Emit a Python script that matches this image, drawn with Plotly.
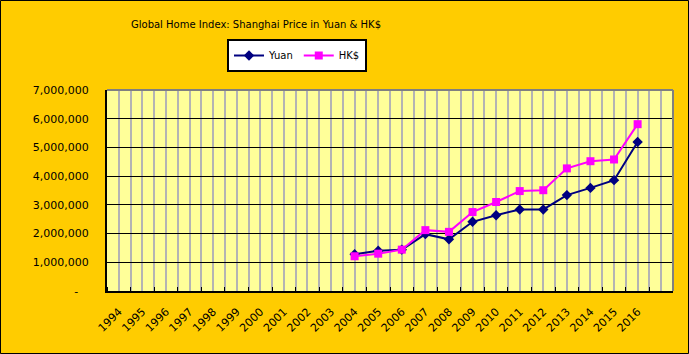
import plotly.graph_objects as go

years = [str(y) for y in range(1994, 2017)] + [""]
data_years = list(range(2004, 2017))
yuan = [1.28e6, 1.40e6, 1.44e6, 1.98e6, 1.80e6, 2.41e6, 2.64e6, 2.84e6, 2.84e6, 3.34e6, 3.59e6, 3.86e6, 5.19e6]
hkd = [1.21e6, 1.30e6, 1.44e6, 2.12e6, 2.06e6, 2.75e6, 3.10e6, 3.48e6, 3.51e6, 4.27e6, 4.52e6, 4.58e6, 5.81e6]
y_ticks = [0, 1e6, 2e6, 3e6, 4e6, 5e6, 6e6, 7e6]
y_labels = ["-\u00a0\u00a0\u00a0"] + [f"{int(v):,}" for v in y_ticks[1:]]

xpos = [years.index(str(y)) for y in data_years]

W, H = 689, 354
ml, mr, mt, mb = 107, 16, 90, 63
font = "DejaVu Sans"

fig = go.Figure()
fig.add_trace(go.Scatter(x=xpos, y=yuan, name="Yuan", mode="lines+markers",
                         line=dict(color="#000080", width=2),
                         marker=dict(symbol="diamond", size=8, color="#000080")))
fig.add_trace(go.Scatter(x=xpos, y=hkd, name="HK$", mode="lines+markers",
                         line=dict(color="#FF00FF", width=2),
                         marker=dict(symbol="square", size=8, color="#FF00FF")))

pw = W - ml - mr
ph = H - mt - mb
fig.add_shape(type="rect", xref="paper", yref="paper",
              x0=-ml / pw + 0.5 / pw, x1=1 + (mr - 0.5) / pw,
              y0=-mb / ph + 0.5 / ph, y1=1 + (mt - 0.5) / ph,
              line=dict(color="black", width=1), layer="below")
fig.add_shape(type="line", xref="paper", yref="paper", x0=0, x1=1, y0=1, y1=1,
              line=dict(color="#808080", width=2))
fig.add_shape(type="line", xref="paper", yref="paper", x0=1, x1=1, y0=0, y1=1,
              line=dict(color="#808080", width=2))

fig.update_layout(
    width=W, height=H,
    margin=dict(l=ml, r=mr, t=mt, b=mb),
    paper_bgcolor="#FFCC00", plot_bgcolor="#FFFF99",
    font=dict(family=font, size=11, color="black"),
    title=dict(text="Global Home Index: Shanghai Price in Yuan & HK$",
               x=256 / W, xanchor="center", y=1 - 24 / H, yanchor="middle",
               font=dict(family=font, size=10, color="black")),
    legend=dict(orientation="h", x=297 / W, xanchor="center", xref="container",
                y=1 - 55.5 / H, yref="container", yanchor="middle",
                bgcolor="white", bordercolor="black", borderwidth=2,
                font=dict(family=font, size=10), itemwidth=30, tracegroupgap=0,
                entrywidth=0),
    showlegend=True,
    xaxis=dict(range=[-0.5, 23.5], tickmode="array",
               tickvals=list(range(len(years))), ticktext=years,
               tickangle=-45, ticks="", showgrid=True, gridcolor="#B4B4B4", gridwidth=2,
               showline=True, linecolor="black", linewidth=2, zeroline=False,
               ticklabelstandoff=8,
               tickfont=dict(family=font, size=11),
               minor=dict(tick0=0.5, dtick=1, ticks="inside", ticklen=4,
                          tickcolor="black", tickwidth=1,
                          showgrid=True, gridcolor="#B4B4B4", gridwidth=2)),
    yaxis=dict(range=[0, 7e6], tickmode="array", tickvals=y_ticks, ticktext=y_labels,
               showgrid=True, gridcolor="black", gridwidth=1,
               showline=True, linecolor="black", linewidth=2, zeroline=False,
               ticks="", ticklabelstandoff=14,
               tickfont=dict(family=font, size=11)),
)

fig.write_html("out.html")
